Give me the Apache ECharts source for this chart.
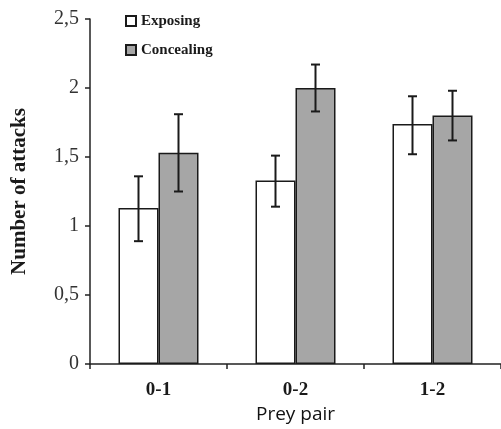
<!DOCTYPE html>
<html>
<head>
<meta charset="utf-8">
<script src="https://cdn.jsdelivr.net/npm/echarts@6/dist/echarts.min.js"></script>
<style>
    html, body { margin: 0; padding: 0; background: #fff; }
    #chart { width: 501px; height: 429px; }
</style>
</head>
<body>
<div id="chart"></div>
<script>
    // data
    var categories = ['0-1', '0-2', '1-2'];
    var exposing = [1.13, 1.33, 1.74];
    var exposingLow = [0.89, 1.14, 1.52];
    var exposingHigh = [1.36, 1.51, 1.94];
    var concealing = [1.53, 2.0, 1.80];
    var concealingLow = [1.25, 1.83, 1.62];
    var concealingHigh = [1.81, 2.17, 1.98];

    var BAR_W = 40;
    var serif = '"Liberation Serif", "DejaVu Serif", serif';

    function errRows(low, high) {
        var rows = [];
        for (var i = 0; i < categories.length; i++) {
            rows.push([i, low[i], high[i]]);
        }
        return rows;
    }

    // error bar with caps, shifted to sit on its bar
    function errRender(shift) {
        return function (params, api) {
            var lo = api.coord([api.value(0), api.value(1)]);
            var hi = api.coord([api.value(0), api.value(2)]);
            var x = lo[0] + shift * BAR_W;
            var cap = 4.5;
            var st = {stroke: '#1a1a1a', lineWidth: 2};
            return {
                type: 'group',
                children: [
                    {type: 'line', shape: {x1: x, y1: lo[1], x2: x, y2: hi[1]}, style: st},
                    {type: 'line', shape: {x1: x - cap, y1: lo[1], x2: x + cap, y2: lo[1]}, style: st},
                    {type: 'line', shape: {x1: x - cap, y1: hi[1], x2: x + cap, y2: hi[1]}, style: st}
                ]
            };
        };
    }

    var myChart = echarts.init(document.getElementById('chart'));

    myChart.setOption({
        animation: false,
        grid: {
            left: 90,
            right: -3,
            top: 19,
            bottom: 65
        },
        legend: {
            orient: 'vertical',
            left: 120,
            top: 7,
            itemWidth: 10,
            itemHeight: 10,
            itemGap: 11,
            icon: 'rect',
            data: ['Exposing', 'Concealing'],
            textStyle: {
                fontFamily: serif,
                fontWeight: 'bold',
                fontSize: 15,
                lineHeight: 18,
                color: '#1a1a1a'
            }
        },
        xAxis: {
            type: 'category',
            data: categories,
            name: 'Prey pair',
            nameLocation: 'middle',
            nameGap: 35,
            nameTextStyle: {
                fontFamily: '"Open Sans", sans-serif',
                fontSize: 19,
                color: '#111'
            },
            axisLine: {lineStyle: {color: '#222', width: 1.5}},
            axisTick: {show: true, length: 5, lineStyle: {color: '#222', width: 1.5}},
            axisLabel: {
                margin: 17,
                fontFamily: serif,
                fontWeight: 'bold',
                fontSize: 19,
                color: '#1a1a1a'
            }
        },
        yAxis: {
            type: 'value',
            min: 0,
            max: 2.5,
            interval: 0.5,
            name: 'Number of attacks',
            nameLocation: 'middle',
            nameGap: 60,
            nameTextStyle: {
                fontFamily: serif,
                fontWeight: 'bold',
                fontSize: 21,
                color: '#1a1a1a'
            },
            axisLine: {show: true, lineStyle: {color: '#222', width: 1.5}},
            axisTick: {show: true, length: 5, lineStyle: {color: '#222', width: 1.5}},
            splitLine: {show: false},
            axisLabel: {
                margin: 11,
                fontFamily: serif,
                fontSize: 20,
                color: '#333',
                formatter: function (v) {
                    return String(v).replace('.', ',');
                }
            }
        },
        series: [
            {
                name: 'Exposing',
                type: 'bar',
                barWidth: BAR_W,
                barGap: '0%',
                data: exposing,
                itemStyle: {color: '#ffffff', borderColor: '#1a1a1a', borderWidth: 1.5}
            },
            {
                name: 'Concealing',
                type: 'bar',
                barWidth: BAR_W,
                barGap: '0%',
                data: concealing,
                itemStyle: {color: '#a6a6a6', borderColor: '#1a1a1a', borderWidth: 1.5}
            },
            {
                type: 'custom',
                renderItem: errRender(-0.5),
                data: errRows(exposingLow, exposingHigh),
                encode: {x: 0, y: [1, 2]},
                z: 10
            },
            {
                type: 'custom',
                renderItem: errRender(0.5),
                data: errRows(concealingLow, concealingHigh),
                encode: {x: 0, y: [1, 2]},
                z: 10
            }
        ]
    });
</script>
</body>
</html>
